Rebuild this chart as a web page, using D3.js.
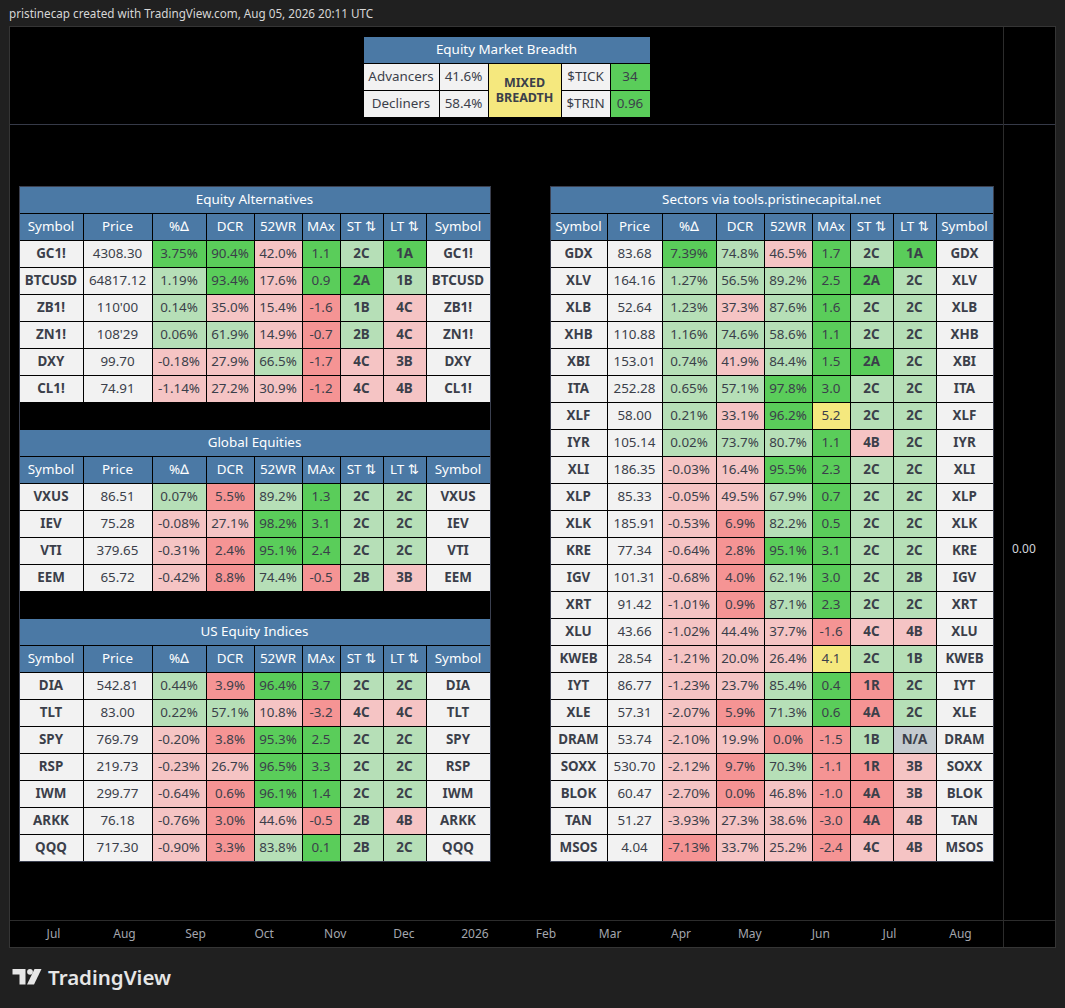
<!DOCTYPE html>
<html>
<head>
<meta charset="utf-8">
<script src="https://cdn.jsdelivr.net/npm/d3@7"></script>
<style>
  body { margin: 0; background: #202020; }
  svg { display: block; }
  text { font-family: "Noto Sans", "DejaVu Sans", sans-serif; }
</style>
</head>
<body>
<svg id="chart" width="1065" height="1008"></svg>
<script>
// ---- data ----
const breadthNames = ['Advancers', 'Decliners']
const breadthPct = [41.6, 58.4]
const breadthSignal = ['MIXED', 'BREADTH']
const internalNames = ['$TICK', '$TRIN']
const internalValues = [34, 0.96]

const altSymbols = ['GC1!', 'BTCUSD', 'ZB1!', 'ZN1!', 'DXY', 'CL1!']
const altPrices = ['4308.30', '64817.12', "110'00", "108'29", '99.70', '74.91']
const altChange = [3.75, 1.19, 0.14, 0.06, -0.18, -1.14]
const altDcr = [90.4, 93.4, 35.0, 61.9, 27.9, 27.2]
const alt52wr = [42.0, 17.6, 15.4, 14.9, 66.5, 30.9]
const altMax = [1.1, 0.9, -1.6, -0.7, -1.7, -1.2]
const altSt = ['2C', '2A', '1B', '2B', '4C', '4C']
const altLt = ['1A', '1B', '4C', '4C', '3B', '4B']

const globSymbols = ['VXUS', 'IEV', 'VTI', 'EEM']
const globPrices = ['86.51', '75.28', '379.65', '65.72']
const globChange = [0.07, -0.08, -0.31, -0.42]
const globDcr = [5.5, 27.1, 2.4, 8.8]
const glob52wr = [89.2, 98.2, 95.1, 74.4]
const globMax = [1.3, 3.1, 2.4, -0.5]
const globSt = ['2C', '2C', '2C', '2B']
const globLt = ['2C', '2C', '2C', '3B']

const usSymbols = ['DIA', 'TLT', 'SPY', 'RSP', 'IWM', 'ARKK', 'QQQ']
const usPrices = ['542.81', '83.00', '769.79', '219.73', '299.77', '76.18', '717.30']
const usChange = [0.44, 0.22, -0.20, -0.23, -0.64, -0.76, -0.90]
const usDcr = [3.9, 57.1, 3.8, 26.7, 0.6, 3.0, 3.3]
const us52wr = [96.4, 10.8, 95.3, 96.5, 96.1, 44.6, 83.8]
const usMax = [3.7, -3.2, 2.5, 3.3, 1.4, -0.5, 0.1]
const usSt = ['2C', '4C', '2C', '2C', '2C', '2B', '2B']
const usLt = ['2C', '4C', '2C', '2C', '2C', '4B', '2C']

const secSymbols = ['GDX', 'XLV', 'XLB', 'XHB', 'XBI', 'ITA', 'XLF', 'IYR', 'XLI', 'XLP', 'XLK', 'KRE',
  'IGV', 'XRT', 'XLU', 'KWEB', 'IYT', 'XLE', 'DRAM', 'SOXX', 'BLOK', 'TAN', 'MSOS']
const secPrices = ['83.68', '164.16', '52.64', '110.88', '153.01', '252.28', '58.00', '105.14', '186.35',
  '85.33', '185.91', '77.34', '101.31', '91.42', '43.66', '28.54', '86.77', '57.31', '53.74', '530.70',
  '60.47', '51.27', '4.04']
const secChange = [7.39, 1.27, 1.23, 1.16, 0.74, 0.65, 0.21, 0.02, -0.03, -0.05, -0.53, -0.64, -0.68,
  -1.01, -1.02, -1.21, -1.23, -2.07, -2.10, -2.12, -2.70, -3.93, -7.13]
const secDcr = [74.8, 56.5, 37.3, 74.6, 41.9, 57.1, 33.1, 73.7, 16.4, 49.5, 6.9, 2.8, 4.0, 0.9, 44.4,
  20.0, 23.7, 5.9, 19.9, 9.7, 0.0, 27.3, 33.7]
const sec52wr = [46.5, 89.2, 87.6, 58.6, 84.4, 97.8, 96.2, 80.7, 95.5, 67.9, 82.2, 95.1, 62.1, 87.1, 37.7,
  26.4, 85.4, 71.3, 0.0, 70.3, 46.8, 38.6, 25.2]
const secMax = [1.7, 2.5, 1.6, 1.1, 1.5, 3.0, 5.2, 1.1, 2.3, 0.7, 0.5, 3.1, 3.0, 2.3, -1.6, 4.1, 0.4, 0.6,
  -1.5, -1.1, -1.0, -3.0, -2.4]
const secSt = ['2C', '2A', '2C', '2C', '2A', '2C', '2C', '4B', '2C', '2C', '2C', '2C', '2C', '2C', '4C',
  '2C', '1R', '4A', '1B', '1R', '4A', '4A', '4C']
const secLt = ['1A', '2C', '2C', '2C', '2C', '2C', '2C', '2C', '2C', '2C', '2C', '2C', '2B', '2C', '4B',
  '1B', '2C', '2C', 'N/A', '3B', '3B', '4B', '4B']

const headers = ['Symbol', 'Price', '%\u2206', 'DCR', '52WR', 'MAx', 'ST \u21C5', 'LT \u21C5', 'Symbol']
const monthTicks = ['2025-07-01', '2025-08-01', '2025-09-01', '2025-10-01', '2025-11-01', '2025-12-01',
  '2026-01-01', '2026-02-01', '2026-03-01', '2026-04-01', '2026-05-01', '2026-06-01', '2026-07-01', '2026-08-01']
const priceTicks = [0]

// ---- colours ----
const BLUE = '#4b79a5', CELL = '#f2f2f2', INK = '#3b3f4a'
const GREEN = '#5acd5a', LGREEN = '#b6dfb7', LRED = '#f5c4c4', RED = '#f59494', YELLOW = '#f5e87e', NA = '#c4cbcf'

const changeColor = d3.scaleThreshold([-5, 0, 3], [RED, LRED, LGREEN, GREEN])
const rangeColor = d3.scaleThreshold([10, 50, 90], [RED, LRED, LGREEN, GREEN])
const maxColor = d3.scaleThreshold([0, 4], [RED, GREEN, YELLOW])
function stageColor(s) {
  if (s === 'N/A') return NA
  if (s.endsWith('R') || s === '4A') return RED
  if (s[0] === '3' || s[0] === '4') return LRED
  if (s.endsWith('A')) return GREEN
  return LGREEN
}

const FS = '13.4px'
const svg = d3.select('#chart')

// ---- frame ----
svg.append('text')
    .text('pristinecap created with TradingView.com, Aug 05, 2026 20:11 UTC')
    .attr('x', 9).attr('y', 18)
    .attr('font-size', '11.7px')
    .attr('fill', '#d6d6d6')

svg.append('rect')
    .attr('x', 9.5).attr('y', 26.5).attr('width', 1046).attr('height', 921)
    .attr('fill', '#000').attr('stroke', '#353535')

svg.append('line')
    .attr('x1', 10).attr('x2', 1055).attr('y1', 124.5).attr('y2', 124.5)
    .attr('stroke', '#363a48')
svg.append('line')
    .attr('x1', 10).attr('x2', 1055).attr('y1', 920.5).attr('y2', 920.5)
    .attr('stroke', '#2c2c2c')
svg.append('line')
    .attr('x1', 1003.5).attr('x2', 1003.5).attr('y1', 27).attr('y2', 947)
    .attr('stroke', '#2c2c2c')

// time axis
const timeScale = d3.scaleTime([new Date(2025, 6, 1), new Date(2026, 7, 1)], [53, 960])
const timeAxis = d3.axisBottom(timeScale)
    .tickValues(monthTicks.map(d => new Date(d + 'T00:00')))
    .tickSize(0).tickPadding(9)
    .tickFormat(d => d.getMonth() === 0 ? d.getFullYear() : d3.timeFormat('%b')(d))
svg.append('g')
    .attr('transform', 'translate(0, 920)')
    .call(timeAxis)
    .call(g => g.select('.domain').remove())
    .selectAll('text')
        .attr('fill', '#a3a6ae')
        .attr('font-size', '12px')
        .attr('font-family', '"Noto Sans", sans-serif')

// price axis
const priceScale = d3.scaleLinear([-1, 1], [974, 124])
svg.append('g')
    .attr('transform', 'translate(1003, 0)')
    .call(d3.axisRight(priceScale).tickValues(priceTicks).tickSize(0).tickPadding(9).tickFormat(d3.format('.2f')))
    .call(g => g.select('.domain').remove())
    .selectAll('text')
        .attr('fill', '#d1d4dc')
        .attr('font-size', '12px')
        .attr('font-family', '"Noto Sans", sans-serif')

// ---- tables ----
const ROW = 27

function sectionRows(title, symbols, prices, change, dcr, wr, mx, st, lt) {
  const rows = [{kind: 'title', text: title}, {kind: 'head'}]
  symbols.forEach((s, i) => {
    rows.push({kind: 'data', cells: [
      {text: s, fill: CELL, bold: true},
      {text: prices[i], fill: CELL},
      {text: change[i].toFixed(2) + '%', fill: changeColor(change[i])},
      {text: dcr[i].toFixed(1) + '%', fill: rangeColor(dcr[i])},
      {text: wr[i].toFixed(1) + '%', fill: rangeColor(wr[i])},
      {text: mx[i].toFixed(1), fill: maxColor(mx[i])},
      {text: st[i], fill: stageColor(st[i]), bold: true},
      {text: lt[i], fill: stageColor(lt[i]), bold: true},
      {text: s, fill: CELL, bold: true}
    ]})
  })
  return rows
}

function drawTable(rows, x0, widths, top) {
  const starts = Array.from(d3.cumsum([0, ...widths.slice(0, -1)]), v => v + x0)
  const colX = d3.scaleOrdinal(d3.range(widths.length), starts)
  const colW = d3.scaleOrdinal(d3.range(widths.length), widths)
  const total = d3.sum(widths)
  const y = d3.scaleBand(d3.range(rows.length), [top, top + rows.length * ROW])

  const g = svg.append('g').attr('shape-rendering', 'crispEdges')
  const row = g.selectAll('g.row')
      .data(rows)
      .join('g')
        .attr('class', 'row')
        .attr('transform', (d, i) => `translate(0, ${y(i)})`)

  row.filter(d => d.kind === 'gap')
    .append('rect')
      .attr('x', x0).attr('width', total).attr('height', y.bandwidth())
      .attr('fill', '#000')

  const title = row.filter(d => d.kind === 'title')
  title.append('rect')
      .attr('x', x0).attr('width', total).attr('height', y.bandwidth())
      .attr('fill', BLUE).attr('stroke', '#000')
  title.append('text')
      .text(d => d.text)
      .attr('x', x0 + total / 2).attr('y', y.bandwidth() / 2).attr('dy', '0.35em')
      .attr('text-anchor', 'middle').attr('font-size', FS).attr('fill', '#fff')

  const head = row.filter(d => d.kind === 'head')
    .selectAll('g')
    .data(headers)
    .join('g')
  head.append('rect')
      .attr('x', (d, i) => colX(i)).attr('width', (d, i) => colW(i)).attr('height', y.bandwidth())
      .attr('fill', BLUE).attr('stroke', '#000')
  head.append('text')
      .text(d => d)
      .attr('x', (d, i) => colX(i) + colW(i) / 2).attr('y', y.bandwidth() / 2).attr('dy', '0.35em')
      .attr('text-anchor', 'middle').attr('font-size', FS).attr('fill', '#fff')

  const cell = row.filter(d => d.kind === 'data')
    .selectAll('g')
    .data(d => d.cells)
    .join('g')
  cell.append('rect')
      .attr('x', (d, i) => colX(i)).attr('width', (d, i) => colW(i)).attr('height', y.bandwidth())
      .attr('fill', d => d.fill).attr('stroke', '#000')
  cell.append('text')
      .text(d => d.text)
      .attr('x', (d, i) => colX(i) + colW(i) / 2).attr('y', y.bandwidth() / 2).attr('dy', '0.35em')
      .attr('text-anchor', 'middle').attr('font-size', FS)
      .attr('font-weight', d => d.bold ? 'bold' : 'normal')
      .attr('fill', INK)

  g.append('rect')
      .attr('x', x0).attr('y', top).attr('width', total).attr('height', rows.length * ROW)
      .attr('fill', 'none').attr('stroke', '#3b4050')
}

const leftRows = [
  ...sectionRows('Equity Alternatives', altSymbols, altPrices, altChange, altDcr, alt52wr, altMax, altSt, altLt),
  {kind: 'gap'},
  ...sectionRows('Global Equities', globSymbols, globPrices, globChange, globDcr, glob52wr, globMax, globSt, globLt),
  {kind: 'gap'},
  ...sectionRows('US Equity Indices', usSymbols, usPrices, usChange, usDcr, us52wr, usMax, usSt, usLt)
]
drawTable(leftRows, 19, [64, 69, 54, 48, 48, 38, 43, 43, 64], 186)

const rightRows = sectionRows('Sectors via tools.pristinecapital.net', secSymbols, secPrices, secChange,
  secDcr, sec52wr, secMax, secSt, secLt)
drawTable(rightRows, 550, [57, 55, 54, 48, 48, 38, 43, 43, 57], 186)

// ---- breadth table ----
const bWidths = [76, 49, 73, 49, 40]
const bStarts = Array.from(d3.cumsum([0, ...bWidths.slice(0, -1)]), v => v + 363)
const bx = d3.scaleOrdinal(d3.range(5), bStarts)
const bw = d3.scaleOrdinal(d3.range(5), bWidths)
const by = d3.scaleBand([0, 1, 2], [36, 36 + 3 * ROW])
const bTotal = d3.sum(bWidths)
const bg = svg.append('g').attr('shape-rendering', 'crispEdges')

bg.append('rect')
    .attr('x', bx(0)).attr('y', by(0)).attr('width', bTotal).attr('height', by.bandwidth())
    .attr('fill', BLUE).attr('stroke', '#000')
bg.append('text')
    .text('Equity Market Breadth')
    .attr('x', bx(0) + bTotal / 2).attr('y', by(0) + by.bandwidth() / 2).attr('dy', '0.35em')
    .attr('text-anchor', 'middle').attr('font-size', FS).attr('fill', '#fff')

const bCells = []
breadthNames.forEach((n, i) => {
  bCells.push({col: 0, row: i + 1, text: n, fill: CELL})
  bCells.push({col: 1, row: i + 1, text: breadthPct[i].toFixed(1) + '%', fill: CELL})
  bCells.push({col: 3, row: i + 1, text: internalNames[i], fill: CELL})
  const good = i === 0 ? internalValues[i] > 0 : internalValues[i] < 1
  bCells.push({col: 4, row: i + 1, text: String(internalValues[i]), fill: good ? GREEN : RED})
})
const bCell = bg.selectAll('g.cell').data(bCells).join('g').attr('class', 'cell')
bCell.append('rect')
    .attr('x', d => bx(d.col)).attr('y', d => by(d.row))
    .attr('width', d => bw(d.col)).attr('height', by.bandwidth())
    .attr('fill', d => d.fill).attr('stroke', '#000')
bCell.append('text')
    .text(d => d.text)
    .attr('x', d => bx(d.col) + bw(d.col) / 2).attr('y', d => by(d.row) + by.bandwidth() / 2).attr('dy', '0.35em')
    .attr('text-anchor', 'middle').attr('font-size', FS).attr('fill', INK)

bg.append('rect')
    .attr('x', bx(2)).attr('y', by(1)).attr('width', bw(2)).attr('height', 2 * by.bandwidth())
    .attr('fill', YELLOW).attr('stroke', '#000')
bg.append('text')
    .attr('text-anchor', 'middle').attr('font-size', '12.5px').attr('font-weight', 'bold').attr('fill', INK)
    .selectAll('tspan')
    .data(breadthSignal)
    .join('tspan')
      .text(d => d)
      .attr('x', bx(2) + bw(2) / 2)
      .attr('y', (d, i) => by(1) + by.bandwidth() - 7 + i * 15)
      .attr('dy', '0.35em')

// ---- watermark ----
const logo = svg.append('g').attr('fill', '#e6e6e6')
logo.append('path').attr('d', 'M12.5,969 H25.5 V984.5 H19.5 V974.5 H12.5 Z')
logo.append('circle').attr('cx', 30).attr('cy', 971.8).attr('r', 2.9)
logo.append('path').attr('d', 'M34.5,969 H41.5 L34,984.5 H27 Z')
svg.append('text')
    .text('TradingView')
    .attr('x', 48).attr('y', 985)
    .attr('font-family', 'Inter, sans-serif')
    .attr('font-size', '20.5px').attr('font-weight', 600)
    .attr('fill', '#e6e6e6')
</script>
</body>
</html>
